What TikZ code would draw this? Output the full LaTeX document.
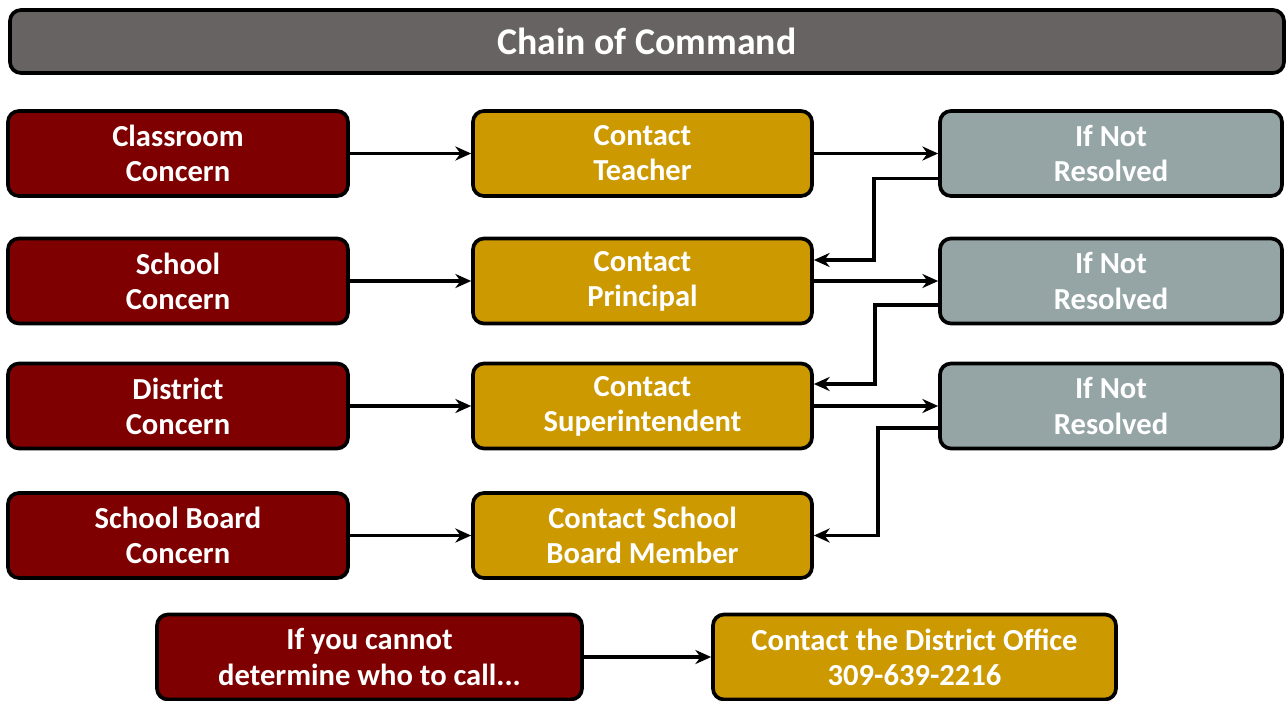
\documentclass[tikz,border=0pt]{standalone}
\usepackage{fontspec}
\setmainfont{Carlito}
\usetikzlibrary{positioning,calc,arrows.meta}
\tikzset{>=Stealth}
\definecolor{cmdgray}{HTML}{686363}
\definecolor{cmdred}{HTML}{7F0000}
\definecolor{cmdgold}{HTML}{CC9900}
\definecolor{cmdslate}{HTML}{95A5A5}
\tikzset{
  cbox/.style={draw=black,line width=2.1pt,rounded corners=0.22cm,
    text=white,font=\fontsize{17.4}{20}\selectfont\bfseries,align=center,
    minimum height=1.7cm,inner sep=0pt},
  concern/.style={cbox,fill=cmdred,minimum width=6.8cm},
  contact/.style={cbox,fill=cmdgold,minimum width=6.78cm},
  notres/.style={cbox,fill=cmdslate,minimum width=6.84cm},
  link/.style={->,line width=2pt,>={Stealth[length=9pt,width=8pt]}}
}
\begin{document}
\begin{tikzpicture}
\useasboundingbox (0,0) rectangle (25.72,-14);
\node[cbox,fill=cmdgray,minimum width=25.48cm,minimum height=1.26cm,
  font=\fontsize{21.5}{24}\selectfont\bfseries] (title) at (12.94,-0.83) {Chain of Command};
% left column
\node[concern] (c1) at (3.56,-3.07) {Classroom\\Concern};
\node[concern] (c2) at (3.56,-5.62) {School\\Concern};
\node[concern] (c3) at (3.56,-8.12) {District\\Concern};
\node[concern] (c4) at (3.56,-10.71) {School Board\\Concern};
% middle column
\node[contact] (t1) at (12.85,-3.07) {Contact\\Teacher};
\node[contact] (t2) at (12.85,-5.62) {Contact\\Principal};
\node[contact] (t3) at (12.85,-8.12) {Contact\\Superintendent};
\node[contact] (t4) at (12.85,-10.71) {Contact School\\Board Member};
% right column
\node[notres] (n1) at (22.22,-3.07) {If Not\\Resolved};
\node[notres] (n2) at (22.22,-5.62) {If Not\\Resolved};
\node[notres] (n3) at (22.22,-8.12) {If Not\\Resolved};
% bottom row
\node[concern,minimum width=8.5cm] (q) at (7.39,-13.14) {If you cannot\\determine who to call...};
\node[contact,minimum width=8.06cm] (d) at (18.29,-13.14) {Contact the District Office\\309-639-2216};
\foreach \i in {1,...,4}
  \draw[link] (c\i) -- (t\i);
\foreach \i in {1,2,3}
  \draw[link] (t\i) -- (n\i);
\draw[link] ([yshift=-0.5cm]n1.west) -- ++(-1.28,0) |- ([yshift=0.42cm]t2.east);
\draw[link] ([yshift=-0.48cm]n2.west) -- ++(-1.26,0) |- ([yshift=0.44cm]t3.east);
\draw[link] ([yshift=-0.44cm]n3.west) -- ++(-1.2,0) |- (t4);
\draw[link] (q) -- (d);
\end{tikzpicture}
\end{document}
